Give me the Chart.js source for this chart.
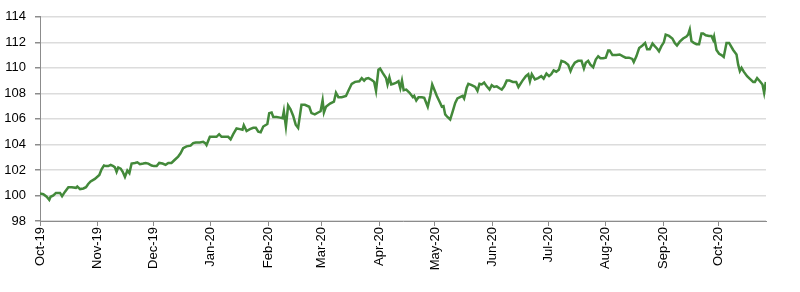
<!DOCTYPE html>
<html>
<head>
<meta charset="utf-8">
<script src="https://cdn.jsdelivr.net/npm/chart.js@4.4.1/dist/chart.umd.min.js"></script>
<style>
  html, body { margin: 0; padding: 0; background: #fff; }
  #wrap { width: 800px; height: 292px; position: relative; }
</style>
</head>
<body>
<div id="wrap"><canvas id="chart"></canvas></div>
<script>
// days since 1 Oct 2019
const days = [
  0, 1.8, 3.6, 5, 5.7, 7.2, 8.6, 10.8, 11.9, 13.5, 15.3, 17.1, 19.4, 20.1, 21.6, 23.4, 24.8, 26, 27.3, 29.6,
  32, 33.2, 34.5, 35.6, 36.8, 38.1, 39.5, 40.4, 41.3, 42.2, 43.5, 44.6, 45.8, 47.1, 48.2, 49.4, 51.2, 52.5, 53.9, 55.7,
  57, 58.4, 60.2, 61.5, 62.9, 64.3, 66.1, 67.7, 69.2, 70.9, 72.7, 74.5, 75.8, 77.2, 79, 81.2, 82.6, 84, 86.2, 88,
  89.1, 89.8, 91.6, 93.4, 95.2, 96.6, 97.9, 99.7, 101.5, 102.8, 104.2, 106, 107.8, 109.2, 109.9, 111.4, 113.2, 115, 116.4, 117.7,
  119, 120.4, 122.6, 123.6, 124.9, 125.8, 127.6, 129.4, 130.8, 131.5, 132.6, 133.8, 135.1, 136.5, 137.9, 139.2, 141, 142.8, 145.2, 146.4,
  148.2, 150, 151.3, 152.4, 153.1, 154.2, 156.4, 158.5, 159.6, 160.9, 162.7, 165, 166.3, 168.1, 169.9, 172.2, 173.5, 174.8, 175.8, 177.1,
  178.9, 180.2, 181.2, 182.5, 183.4, 184.8, 186.6, 187.4, 188.4, 189.4, 190.6, 192.1, 193.3, 194.3, 195.2, 196.1, 197.5, 199.3, 201.1, 201.8,
  202.9, 204.1, 205.9, 207.2, 208.3, 209.1, 210.4, 211.5, 212.6, 214, 215.8, 216.7, 217.6, 218.5, 219.7, 221.2, 222.6, 223.9, 225.1, 226.5,
  227.9, 228.7, 229.4, 230.1, 231, 232.8, 234.7, 235.9, 237, 238.2, 239.5, 240.9, 242.4, 243.6, 244.9, 246.3, 247.8, 249, 250.3, 251.7,
  253.2, 255, 256.8, 258, 260.2, 262, 263.3, 264.2, 265.2, 266.9, 268.6, 270.3, 271.6, 273.1, 274.5, 275.7, 277, 278.4, 279.8, 281.2,
  283, 284.8, 286.1, 287.1, 288.4, 290.2, 292, 293.3, 294.3, 295.6, 296.8, 298.3, 299.7, 301, 302.2, 303.7, 305.1, 306.4, 307.2, 308.7,
  310.8, 312.6, 314.4, 315.8, 317.6, 319.4, 320.2, 321.6, 323.1, 324.9, 326.3, 327.4, 328.8, 330.3, 331.5, 332.8, 333.8, 335.1, 336.4, 337.4,
  339.2, 341, 342.3, 343.5, 345, 346.8, 348.6, 349.5, 350.4, 351.3, 352.6, 354, 355.4, 356.7, 357.6, 359, 360.8, 362.1, 363, 363.5,
  364.8, 366.2, 367.5, 368.7, 370.2, 371.6, 373.8, 375.6, 376.5, 377.4, 378.3, 379.5, 381.3, 383.1, 384.6, 385.5, 386.7, 388.2, 389.6, 390.5,
  391.4
];
const values = [
  100.15, 100.1, 99.9, 99.65, 99.9, 100.0, 100.2, 100.2, 99.95, 100.3, 100.65, 100.65, 100.6, 100.7, 100.5, 100.55, 100.65, 100.9, 101.1, 101.3,
  101.6, 102.05, 102.35, 102.3, 102.3, 102.4, 102.3, 102.2, 101.85, 102.2, 102.1, 101.85, 101.45, 101.95, 101.75, 102.5, 102.55, 102.6, 102.45, 102.5,
  102.55, 102.5, 102.35, 102.3, 102.3, 102.55, 102.5, 102.4, 102.55, 102.55, 102.8, 103.05, 103.3, 103.7, 103.85, 103.9, 104.1, 104.15, 104.15, 104.2,
  104.1, 103.95, 104.6, 104.6, 104.6, 104.8, 104.6, 104.6, 104.6, 104.4, 104.8, 105.25, 105.2, 105.15, 105.5, 105.05, 105.2, 105.3, 105.3, 105.0,
  104.95, 105.4, 105.6, 106.45, 106.5, 106.15, 106.15, 106.1, 106.05, 106.6, 105.4, 107.05, 106.75, 106.25, 105.55, 105.3, 107.1, 107.1, 106.95, 106.45,
  106.35, 106.5, 106.6, 107.45, 106.5, 106.95, 107.2, 107.35, 108.05, 107.7, 107.7, 107.8, 108.2, 108.75, 108.9, 108.95, 109.2, 109.0, 109.15, 109.2,
  109.05, 108.9, 108.2, 109.85, 109.95, 109.6, 109.2, 108.7, 109.25, 108.7, 108.75, 108.85, 108.95, 108.4, 109.0, 108.25, 108.3, 108.05, 107.7, 107.8,
  107.45, 107.7, 107.7, 107.65, 107.25, 106.95, 107.8, 108.7, 108.3, 107.8, 107.25, 106.95, 107.0, 106.35, 106.15, 105.95, 106.6, 107.25, 107.6, 107.7,
  107.8, 107.6, 108.0, 108.45, 108.75, 108.65, 108.5, 108.2, 108.75, 108.7, 108.85, 108.55, 108.3, 108.65, 108.5, 108.55, 108.4, 108.3, 108.55, 109.0,
  109.0, 108.9, 108.9, 108.5, 109.0, 109.35, 109.5, 108.95, 109.5, 109.1, 109.2, 109.35, 109.15, 109.55, 109.35, 109.5, 109.8, 109.7, 109.85, 110.55,
  110.45, 110.25, 109.75, 110.1, 110.4, 110.55, 110.55, 109.95, 110.4, 110.55, 110.25, 110.05, 110.65, 110.9, 110.75, 110.75, 110.8, 111.35, 111.35, 111.0,
  111.0, 111.05, 110.9, 110.8, 110.8, 110.7, 110.45, 110.9, 111.55, 111.75, 111.95, 111.45, 111.45, 111.9, 111.7, 111.5, 111.3, 111.7, 112.0, 112.6,
  112.5, 112.3, 111.95, 111.75, 112.05, 112.3, 112.45, 112.6, 113.0, 112.1, 111.95, 111.85, 111.85, 112.7, 112.7, 112.55, 112.5, 112.5, 112.2, 112.45,
  111.4, 111.1, 111.0, 110.85, 111.95, 111.95, 111.4, 111.05, 110.25, 109.75, 110.0, 109.7, 109.35, 109.1, 108.9, 108.9, 109.2, 108.95, 108.7, 108.05,
  108.9
];

// month starts (days since 1 Oct 2019) and their labels
const monthDays = [0, 31, 61, 92, 123, 152, 183, 213, 244, 274, 305, 336, 366];
const monthLabels = ['Oct-19', 'Nov-19', 'Dec-19', 'Jan-20', 'Feb-20', 'Mar-20', 'Apr-20',
                     'May-20', 'Jun-20', 'Jul-20', 'Aug-20', 'Sep-20', 'Oct-20'];
const yTicks = [98, 100, 102, 104, 106, 108, 110, 112, 114];

const points = days.map((d, i) => ({ x: d, y: values[i] }));

Chart.defaults.font.family = '"Liberation Sans", Arial, sans-serif';
Chart.defaults.font.size = 13;
Chart.defaults.color = '#000';

new Chart(document.getElementById('chart'), {
  type: 'line',
  data: {
    datasets: [{
      data: points,
      borderColor: '#43893a',
      borderWidth: 2.5,
      pointRadius: 0,
      tension: 0,
      fill: false
    }]
  },
  options: {
    responsive: true,
    maintainAspectRatio: false,
    animation: false,
    layout: { padding: { top: 16, right: 34, left: 0, bottom: 0 } },
    plugins: { legend: { display: false }, tooltip: { enabled: false } },
    scales: {
      x: {
        type: 'linear',
        min: 0,
        max: 391.5,
        afterBuildTicks: axis => { axis.ticks = monthDays.map(v => ({ value: v })); },
        afterFit: axis => { axis.height = 71; },
        ticks: {
          autoSkip: false,
          minRotation: 90,
          maxRotation: 90,
          padding: 1,
          callback: v => monthLabels[monthDays.indexOf(v)]
        },
        grid: { drawOnChartArea: false, drawTicks: true, tickLength: 5, color: '#8c8c8c' },
        border: { color: '#8c8c8c' }
      },
      y: {
        min: 98,
        max: 114,
        afterBuildTicks: axis => { axis.ticks = yTicks.map(v => ({ value: v })); },
        afterFit: axis => { axis.width = 40; },
        ticks: { padding: 9 },
        grid: { color: '#dcdcdc', lineWidth: 1.5, tickColor: '#8c8c8c', tickLength: 5 },
        border: { color: '#8c8c8c' }
      }
    }
  }
});
</script>
</body>
</html>
